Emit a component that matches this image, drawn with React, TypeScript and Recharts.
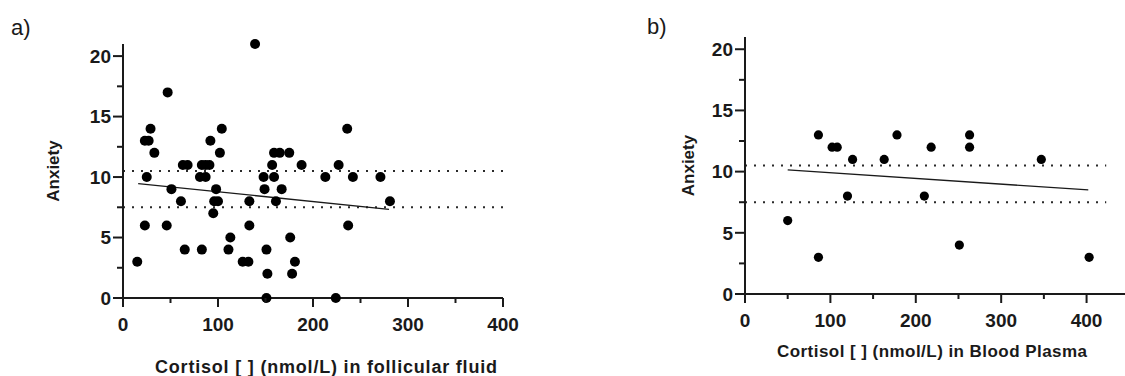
import React from "react";
import {
  ReferenceLine,
  Scatter,
  ScatterChart,
  XAxis,
  YAxis,
} from "recharts";

// a) follicular fluid
const follicularCortisol = [
  15, 23, 23, 27, 25, 29, 33, 47, 46, 51, 61, 63, 68, 65, 81, 87, 83, 87, 91, 83,
  92, 95, 98, 96, 100, 102, 104, 111, 113, 126, 132, 133, 133, 139, 148, 149, 151,
  152, 151, 157, 159, 161, 159, 165, 167, 175, 176, 178, 181, 188, 213, 224, 227,
  236, 237, 242, 271, 281,
];
const follicularAnxiety = [
  3, 6, 13, 13, 10, 14, 12, 17, 6, 9, 8, 11, 11, 4, 10, 10, 11, 11, 11, 4,
  13, 7, 9, 8, 8, 12, 14, 4, 5, 3, 3, 6, 8, 21, 10, 9, 4,
  2, 0, 11, 10, 8, 12, 12, 9, 12, 5, 2, 3, 11, 10, 0, 11,
  14, 6, 10, 10, 8,
];
const follicularFitX = [16, 280];
const follicularFitY = [9.46, 7.33];

// b) blood plasma
const plasmaCortisol = [50, 86, 86, 102, 108, 126, 120, 163, 178, 210, 218, 263, 263, 251, 347, 403];
const plasmaAnxiety = [6, 13, 3, 12, 12, 11, 8, 11, 13, 8, 12, 13, 12, 4, 11, 3];
const plasmaFitX = [50, 402];
const plasmaFitY = [10.15, 8.5];

const bandLines = [10.5, 7.5];
const xTicks = [0, 50, 100, 150, 200, 250, 300, 350, 400];
const yTicks = [0, 2.5, 5, 7.5, 10, 12.5, 15, 17.5, 20];

const INK = "#1a1a1a";
const FONT = "'Liberation Sans', Arial, sans-serif";

const toPoints = (xs: number[], ys: number[]) => xs.map((x, i) => ({ x, y: ys[i] }));

function XTick({ x, y, payload }: any) {
  const major = payload.value % 100 === 0;
  return (
    <g>
      <line x1={x} x2={x} y1={y} y2={y + (major ? 9 : 5)} stroke={INK} strokeWidth={2} />
      {major && (
        <text x={x} y={y + 33} textAnchor="middle" fontFamily={FONT} fontWeight="bold" fontSize={19} fill={INK}>
          {payload.value}
        </text>
      )}
    </g>
  );
}

function YTick({ x, y, payload }: any) {
  const major = payload.value % 5 === 0;
  return (
    <g>
      <line x1={x} x2={x - (major ? 10 : 6)} y1={y} y2={y} stroke={INK} strokeWidth={2} />
      {major && (
        <text x={x - 12} y={y} dy="0.36em" textAnchor="end" fontFamily={FONT} fontWeight="bold" fontSize={19} fill={INK}>
          {payload.value}
        </text>
      )}
    </g>
  );
}

type PanelProps = {
  xs: number[];
  ys: number[];
  fitX: number[];
  fitY: number[];
  xMax: number;
  bandEnd: number;
  dotR: number;
  width: number;
  top: number;
  yAxisW: number;
  right: number;
  xAxisH: number;
  xTitle: string;
  xTitleX: number;
  xTitleY: number;
  xTitleLen: number;
  xTitleSize: number;
  yTitleX: number;
};

function Panel(p: PanelProps) {
  const data = toPoints(p.xs, p.ys);
  const plotBottom = 376 - p.xAxisH;
  const yTitleY = (p.top + plotBottom) / 2;
  return (
    <ScatterChart
      width={p.width}
      height={376}
      margin={{ top: p.top, right: p.right, bottom: 0, left: 0 }}
    >
      <XAxis
        type="number"
        dataKey="x"
        domain={[0, p.xMax]}
        ticks={xTicks}
        interval={0}
        height={p.xAxisH}
        tickSize={0}
        tickMargin={0}
        tickLine={false}
        axisLine={{ stroke: INK, strokeWidth: 2 }}
        tick={<XTick />}
        label={() => (
          <text
            x={p.xTitleX}
            y={p.xTitleY}
            textAnchor="middle"
            fontFamily={FONT}
            fontWeight="bold"
            fontSize={p.xTitleSize}
            textLength={p.xTitleLen}
            lengthAdjust="spacing"
            fill={INK}
          >
            {p.xTitle}
          </text>
        )}
      />
      <YAxis
        type="number"
        dataKey="y"
        domain={[0, 21]}
        ticks={yTicks}
        interval={0}
        width={p.yAxisW}
        tickSize={0}
        tickMargin={0}
        tickLine={false}
        axisLine={{ stroke: INK, strokeWidth: 2 }}
        tick={<YTick />}
        label={() => (
          <text
            x={p.yTitleX}
            y={yTitleY}
            transform={`rotate(-90 ${p.yTitleX} ${yTitleY})`}
            textAnchor="middle"
            dominantBaseline="central"
            fontFamily={FONT}
            fontWeight="bold"
            fontSize={17}
            fill={INK}
          >
            Anxiety
          </text>
        )}
      />
      {bandLines.map((v) => (
        <ReferenceLine
          key={v}
          segment={[{ x: 0, y: v }, { x: p.bandEnd, y: v }]}
          stroke="#2a2a2a"
          strokeWidth={2}
          strokeDasharray="2 7"
          ifOverflow="visible"
        />
      ))}
      <ReferenceLine
        segment={[{ x: p.fitX[0], y: p.fitY[0] }, { x: p.fitX[1], y: p.fitY[1] }]}
        stroke={INK}
        strokeWidth={1.3}
        ifOverflow="visible"
      />
      <Scatter
        data={data}
        fill="#000"
        isAnimationActive={false}
        shape={(s: any) => <circle cx={s.cx} cy={s.cy} r={p.dotR} fill="#000" />}
      />
    </ScatterChart>
  );
}

export default function App() {
  return (
    <div style={{ position: "absolute", left: 0, top: 0, width: 1125, height: 376, background: "#fff", overflow: "hidden" }}>
      <div style={{ position: "absolute", left: 11, top: 17, fontFamily: FONT, fontSize: 22, lineHeight: "22px", color: INK }}>a)</div>
      <div style={{ position: "absolute", left: 647, top: 16, fontFamily: FONT, fontSize: 22, lineHeight: "22px", color: INK }}>b)</div>
      <div style={{ position: "absolute", left: 0, top: 0 }}>
        <Panel
          xs={follicularCortisol}
          ys={follicularAnxiety}
          fitX={follicularFitX}
          fitY={follicularFitY}
          xMax={400}
          bandEnd={402}
          dotR={5}
          width={520}
          top={44}
          yAxisW={123}
          right={17}
          xAxisH={78}
          xTitle="Cortisol [ ] (nmol/L) in follicular fluid"
          xTitleX={326}
          xTitleY={373}
          xTitleLen={342}
          xTitleSize={18}
          yTitleX={53}
        />
      </div>
      <div style={{ position: "absolute", left: 620, top: 0 }}>
        <Panel
          xs={plasmaCortisol}
          ys={plasmaAnxiety}
          fitX={plasmaFitX}
          fitY={plasmaFitY}
          xMax={445}
          bandEnd={423}
          dotR={4.6}
          width={505}
          top={37}
          yAxisW={125}
          right={0}
          xAxisH={82}
          xTitle="Cortisol [ ] (nmol/L) in Blood Plasma"
          xTitleX={312}
          xTitleY={357}
          xTitleLen={310}
          xTitleSize={17}
          yTitleX={68}
        />
      </div>
    </div>
  );
}
